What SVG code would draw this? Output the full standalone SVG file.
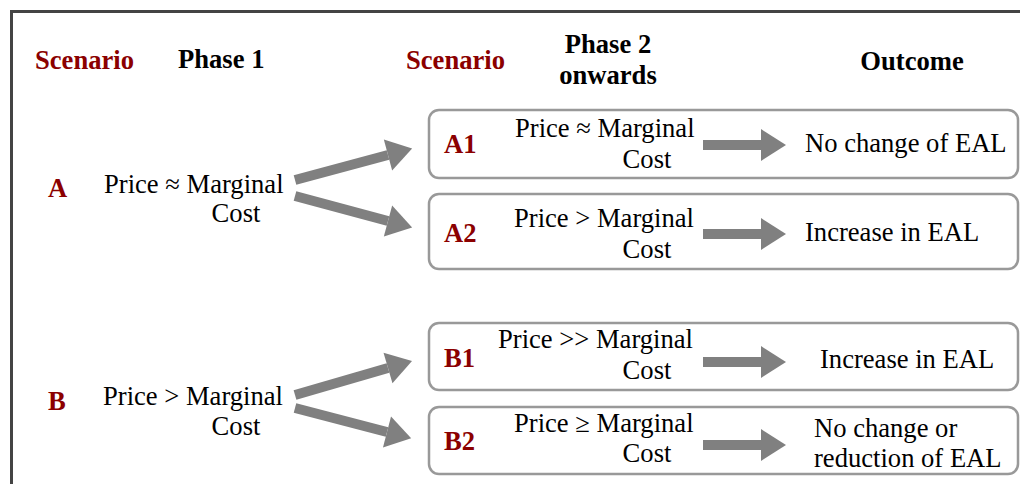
<svg xmlns="http://www.w3.org/2000/svg" width="1020" height="484" viewBox="0 0 1020 484">
  <style>
    text { font-family: "Liberation Serif", "Times New Roman", serif; font-size: 26.6px; fill: #000; }
    .hd { font-weight: bold; }
    .red { font-weight: bold; fill: #8B0000; }
    .box { fill: #fff; stroke: #999; stroke-width: 2.5; }
    .arrow { stroke: #808080; stroke-width: 10; fill: none; marker-end: url(#head); }
  </style>
  <defs>
    <marker id="head" markerUnits="userSpaceOnUse" markerWidth="26" markerHeight="32" refX="0" refY="16" orient="auto" overflow="visible">
      <path d="M0,0 L25,16 L0,32 Z" fill="#808080"/>
    </marker>
  </defs>

  <rect width="1020" height="484" fill="#fff"/>
  <!-- outer frame -->
  <rect x="11.5" y="11.5" width="1040" height="520" fill="none" stroke="#444" stroke-width="3"/>

  <!-- column headings -->
  <g id="headings">
    <text class="red" x="35" y="69">Scenario</text>
    <text class="hd" x="178" y="68">Phase 1</text>
    <text class="red" x="406" y="69">Scenario</text>
    <text class="hd" x="608" y="53" text-anchor="middle">Phase 2</text>
    <text class="hd" x="608" y="84" text-anchor="middle">onwards</text>
    <text class="hd" x="912" y="70" text-anchor="middle">Outcome</text>
  </g>

  <!-- scenario A, phase 1 -->
  <g id="scenario-a">
    <text class="red" x="48" y="197">A</text>
    <text x="104" y="193">Price ≈ Marginal</text>
    <text x="236" y="222" text-anchor="middle">Cost</text>
  </g>

  <!-- scenario B, phase 1 -->
  <g id="scenario-b">
    <text class="red" x="48" y="410">B</text>
    <text x="103" y="405">Price &gt; Marginal</text>
    <text x="236" y="435" text-anchor="middle">Cost</text>
  </g>

  <!-- phase 2 boxes -->
  <g id="a1">
    <rect class="box" x="429" y="110" width="589" height="68" rx="10"/>
    <text class="red" x="444" y="153">A1</text>
    <text x="515" y="137">Price ≈ Marginal</text>
    <text x="647" y="168" text-anchor="middle">Cost</text>
    <text x="805" y="152">No change of EAL</text>
  </g>
  <g id="a2">
    <rect class="box" x="429" y="194" width="589" height="75" rx="10"/>
    <text class="red" x="444" y="242">A2</text>
    <text x="514" y="227">Price &gt; Marginal</text>
    <text x="647" y="258" text-anchor="middle">Cost</text>
    <text x="805" y="241">Increase in EAL</text>
  </g>
  <g id="b1">
    <rect class="box" x="429" y="323" width="589" height="67" rx="10"/>
    <text class="red" x="444" y="367">B1</text>
    <text x="498" y="348">Price &gt;&gt; Marginal</text>
    <text x="647" y="379" text-anchor="middle">Cost</text>
    <text x="820" y="368">Increase in EAL</text>
  </g>
  <g id="b2">
    <rect class="box" x="429" y="407" width="589" height="67" rx="10"/>
    <text class="red" x="444" y="450">B2</text>
    <text x="514" y="432">Price ≥ Marginal</text>
    <text x="647" y="462" text-anchor="middle">Cost</text>
    <text x="814" y="437">No change or</text>
    <text x="814" y="467">reduction of EAL</text>
  </g>

  <!-- connectors -->
  <g id="connectors">
    <line class="arrow" x1="295" y1="180" x2="388" y2="155"/>
    <line class="arrow" x1="295" y1="196" x2="388" y2="221"/>
    <line class="arrow" x1="295" y1="395" x2="388" y2="368"/>
    <line class="arrow" x1="295" y1="408" x2="387" y2="432"/>
    <line class="arrow" x1="703" y1="145" x2="761" y2="145"/>
    <line class="arrow" x1="703" y1="234" x2="761" y2="234"/>
    <line class="arrow" x1="703" y1="362" x2="761" y2="362"/>
    <line class="arrow" x1="703" y1="445" x2="761" y2="445"/>
  </g>
</svg>
